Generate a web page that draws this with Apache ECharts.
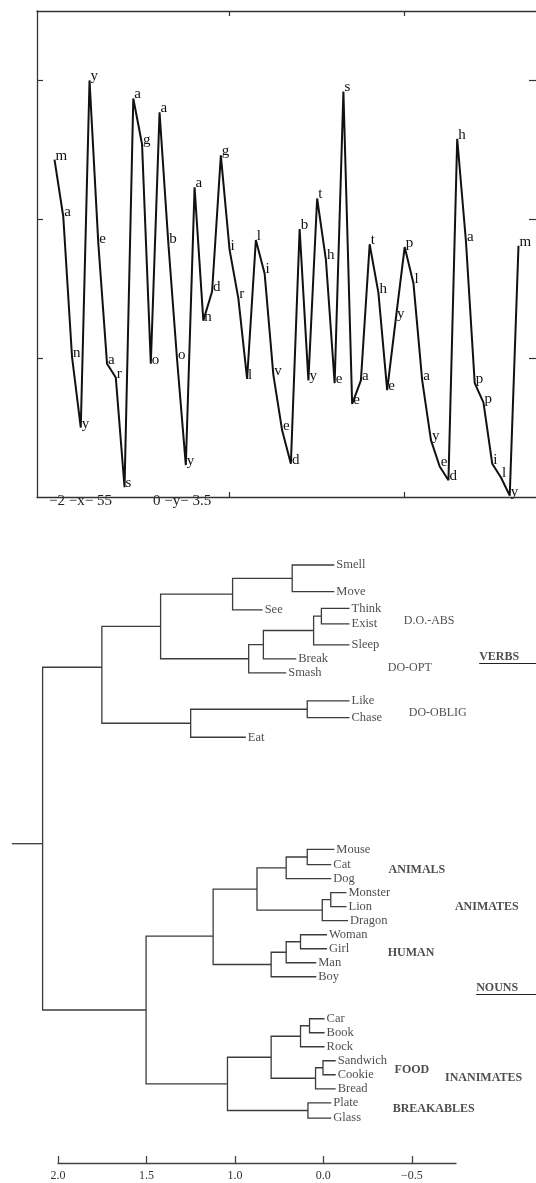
<!DOCTYPE html>
<html><head><meta charset="utf-8">
<script src="https://cdn.jsdelivr.net/npm/echarts@6/dist/echarts.min.js"></script>
<style>html,body{margin:0;padding:0;background:#fff}#c{width:536px;height:1183px}</style>
</head><body><div id="c"></div>
<script>
// ---------- top chart: error per letter ----------
const letters = ['m','a','n','y','y','e','a','r','s','a','g','o','a','b','o','y','a','n','d','g','i','r','l','l','i','v','e','d','b','y','t','h','e','s','e','a','t','h','e','y','p','l','a','y','e','d','h','a','p','p','i','l','y','m'];
const errors = [2.43,2.02,1.01,0.50,3.00,1.83,0.96,0.86,0.07,2.87,2.54,0.96,2.77,1.83,0.99,0.23,2.23,1.27,1.48,2.46,1.78,1.43,0.85,1.85,1.61,0.88,0.48,0.24,1.93,0.84,2.15,1.71,0.82,2.92,0.67,0.84,1.82,1.47,0.77,1.29,1.80,1.54,0.84,0.41,0.22,0.12,2.58,1.84,0.82,0.68,0.24,0.14,0.01,1.81];
const topXRange = [-2, 55];
const topYRange = [0, 3.5];
const topXTicks = [20, 40];
const topYTicks = [1, 2, 3];
const rangeNotes = ['\u22122 \u2212x\u2212 55', '0 \u2212y\u2212 3.5'];

// ---------- bottom chart: dendrogram ----------
const leafNames = ['Smell','Move','See','Think','Exist','Sleep','Break','Smash','Like','Chase','Eat','Mouse','Cat','Dog','Monster','Lion','Dragon','Woman','Girl','Man','Boy','Car','Book','Rock','Sandwich','Cookie','Bread','Plate','Glass'];
const leafRow = [1.0,2.9,4.2,4.1,5.2,6.7,7.7,8.7,10.7,11.9,13.3,21.3,22.4,23.4,24.4,25.4,26.4,27.4,28.4,29.4,30.4,33.4,34.4,35.4,36.4,37.4,38.4,39.4,40.5];
const leafEnd = [0.438,0.438,0.843,0.352,0.352,0.352,0.653,0.710,0.352,0.352,0.938,0.438,0.455,0.455,0.369,0.369,0.360,0.479,0.479,0.540,0.540,0.493,0.493,0.493,0.430,0.430,0.430,0.455,0.455];
// [node, childA, childB, merge height]
const merges = [
  ['SmellMove','Smell','Move',0.676],
  ['SMS','SmellMove','See',1.013],
  ['ThinkExist','Think','Exist',0.511],
  ['TES','ThinkExist','Sleep',0.555],
  ['TESB','TES','Break',0.839],
  ['TESBS','TESB','Smash',0.922],
  ['VerbsA','SMS','TESBS',1.420],
  ['LikeChase','Like','Chase',0.591],
  ['Oblig','LikeChase','Eat',1.25],
  ['Verbs','VerbsA','Oblig',1.752],
  ['MouseCat','Mouse','Cat',0.591],
  ['MCD','MouseCat','Dog',0.710],
  ['MonsterLion','Monster','Lion',0.458],
  ['MLD','MonsterLion','Dragon',0.506],
  ['Animals','MCD','MLD',0.875],
  ['WomanGirl','Woman','Girl',0.629],
  ['WGM','WomanGirl','Man',0.710],
  ['Human','WGM','Boy',0.795],
  ['Animates','Animals','Human',1.123],
  ['CarBook','Car','Book',0.578],
  ['CBR','CarBook','Rock',0.629],
  ['SandCookie','Sandwich','Cookie',0.502],
  ['Food','SandCookie','Bread',0.544],
  ['Inan1','CBR','Food',0.795],
  ['PlateGlass','Plate','Glass',0.587],
  ['Inanimates','Inan1','PlateGlass',1.042],
  ['Nouns','Animates','Inanimates',1.502],
  ['Root','Verbs','Nouns',2.087]
];
const nodeRowOverride = {Verbs: 8.3, Animates: 27.5, Root: 20.9};
const rootStub = 2.261;
const distRange = [-0.25, 2.0];
const distTickValues = [2.0, 1.5, 1.0, 0.5, 0.0];
const distTickLabels = ['2.0', '1.5', '1.0', '0.0', '\u22120.5'];
const groupNames = ['D.O.-ABS','DO-OPT','DO-OBLIG','VERBS','ANIMALS','ANIMATES','HUMAN','NOUNS','FOOD','INANIMATES','BREAKABLES'];
const groupX = [0.045,0.136,0.017,-0.381,0.131,-0.244,0.136,-0.364,0.097,-0.188,0.108];
const groupRow = [5.0,8.36,11.57,7.57,22.79,25.43,28.71,31.21,37.07,37.64,39.86];
const groupBold = [false,false,false,true,true,true,true,true,true,true,true];
const groupUnderline = [false,false,false,true,false,false,false,true,false,false,false];

// ---------- build ----------
const SERIF = '"Liberation Serif","DejaVu Serif",serif';
const pos = {};
leafNames.forEach((n,i)=>{ pos[n] = [leafEnd[i], leafRow[i]]; });
const segs = [];
merges.forEach(([n,a,b,h])=>{
  const A = pos[a], B = pos[b];
  const y = (n in nodeRowOverride) ? nodeRowOverride[n] : (A[1]+B[1])/2;
  segs.push({coords:[[A[0],A[1]],[h,A[1]],[h,B[1]],[B[0],B[1]]]});
  pos[n] = [h, y];
});
segs.push({coords:[[pos.Root[0],pos.Root[1]],[rootStub,pos.Root[1]]]});
const underlines = [];
groupNames.forEach((g,i)=>{
  if (groupUnderline[i]) underlines.push({coords:[[groupX[i],groupRow[i]+0.45],[groupX[i]-0.45,groupRow[i]+0.45]]});
});

const chart = echarts.init(document.getElementById('c'), null, {renderer:'canvas'});
const frameLine = {show:true, onZero:false, lineStyle:{color:'#333', width:1.3}};
const inTick = (vals, len)=>({show:true, inside:true, length:len, customValues:vals, lineStyle:{color:'#333', width:1.2}});
chart.setOption({
  animation:false,
  backgroundColor:'#fff',
  grid:[
    {left:37, top:11, width:502, height:486},
    {left:58, right:80, top:551, bottom:20}
  ],
  xAxis:[
    {gridIndex:0, type:'value', min:topXRange[0], max:topXRange[1], position:'bottom', axisLine:frameLine, axisTick:inTick(topXTicks,5), axisLabel:{show:false}, splitLine:{show:false}},
    {gridIndex:0, type:'value', min:topXRange[0], max:topXRange[1], position:'top', axisLine:frameLine, axisTick:inTick(topXTicks,5), axisLabel:{show:false}, splitLine:{show:false}},
    {gridIndex:1, type:'value', min:distRange[0], max:distRange[1], inverse:true, position:'bottom',
      axisLine:{show:true, onZero:false, lineStyle:{color:'#444', width:1.3}},
      axisTick:{show:true, inside:true, length:7, customValues:distTickValues, lineStyle:{color:'#444', width:1.3}},
      axisLabel:{show:true, customValues:distTickValues, margin:7, color:'#333', fontFamily:SERIF, fontSize:12,
        formatter:(v)=>{ const k = distTickValues.findIndex(t=>Math.abs(t-v)<1e-6); return k>=0 ? distTickLabels[k] : ''; }},
      splitLine:{show:false}}
  ],
  yAxis:[
    {gridIndex:0, type:'value', min:topYRange[0], max:topYRange[1], position:'left', axisLine:frameLine, axisTick:inTick(topYTicks,6), axisLabel:{show:false}, splitLine:{show:false}},
    {gridIndex:0, type:'value', min:topYRange[0], max:topYRange[1], position:'right', axisLine:{show:false, onZero:false}, axisTick:inTick(topYTicks,7), axisLabel:{show:false}, splitLine:{show:false}},
    {gridIndex:1, type:'value', min:0, max:43.7, inverse:true, show:false}
  ],
  graphic:[
    {type:'text', left:49, top:494, style:{text:rangeNotes[0], font:'15px '+SERIF, fill:'#222'}},
    {type:'text', left:153, top:494, style:{text:rangeNotes[1], font:'15px '+SERIF, fill:'#222'}}
  ],
  series:[
    {type:'line', xAxisIndex:0, yAxisIndex:0, data:errors.map((v,i)=>[i,v]),
      symbol:'circle', symbolSize:0, showSymbol:true, lineStyle:{color:'#111', width:2}, itemStyle:{color:'#111'},
      label:{show:true, position:'right', distance:1, offset:[0,-4], color:'#111', fontFamily:SERIF, fontSize:15,
        formatter:(p)=>letters[p.dataIndex]}},
    {type:'lines', coordinateSystem:'cartesian2d', xAxisIndex:2, yAxisIndex:2, polyline:true, clip:false,
      data:segs, lineStyle:{color:'#3c3c3c', width:1.3, opacity:1}, silent:true},
    {type:'lines', coordinateSystem:'cartesian2d', xAxisIndex:2, yAxisIndex:2, polyline:false, clip:false,
      data:underlines, lineStyle:{color:'#222', width:1.2, opacity:1}, silent:true},
    {type:'scatter', xAxisIndex:2, yAxisIndex:2, clip:false, symbolSize:0,
      data:leafNames.map((n,i)=>[leafEnd[i], leafRow[i], n]),
      label:{show:true, position:'right', distance:2, color:'#222', fontFamily:SERIF, fontSize:12.5, formatter:(p)=>p.data[2]}},
    {type:'scatter', xAxisIndex:2, yAxisIndex:2, clip:false, symbolSize:0,
      data:groupNames.map((g,i)=>[groupX[i], groupRow[i], g, groupBold[i]]),
      label:{show:true, position:'right', distance:0, color:'#222', fontFamily:SERIF, fontSize:12,
        formatter:(p)=> p.data[3] ? '{b|'+p.data[2]+'}' : p.data[2],
        rich:{b:{fontWeight:'bold', fontFamily:SERIF, fontSize:12, color:'#222'}}}}
  ]
});
</script></body></html>
